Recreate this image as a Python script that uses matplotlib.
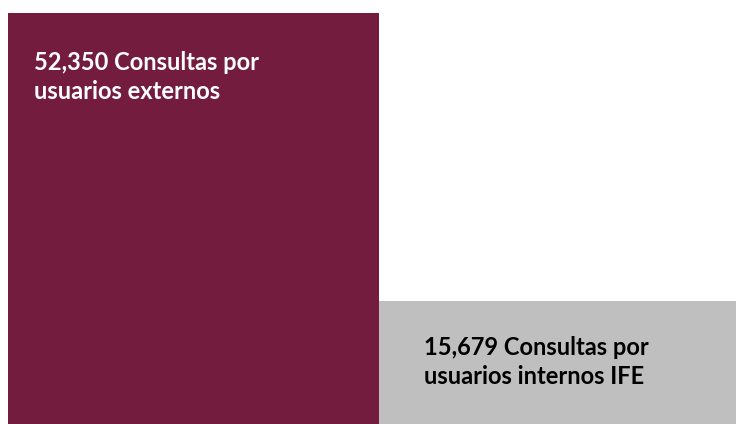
import matplotlib.pyplot as plt

# datos
categorias = ['externos', 'internos IFE']
consultas = [52350, 15679]
etiquetas = ['52,350 Consultas por\nusuarios externos',
             '15,679 Consultas por\nusuarios internos IFE']
colores = ['#731C3D', '#BFBFBF']
color_texto = ['white', 'black']

anchos = [371, 357]
izq = [0, anchos[0]]

fig = plt.figure(figsize=(7.36, 4.24), dpi=100)
ax = fig.add_axes([8/736, 0, 728/736, 411/424])

ax.bar(izq, consultas, width=anchos, align='edge', color=colores, linewidth=0)
ax.set_xlim(0, sum(anchos))
ax.set_ylim(0, max(consultas))
ax.axis('off')

# textos dentro de cada bloque
desplaz = [(26, -38), (45, -35)]
for i in range(len(consultas)):
    ax.annotate(etiquetas[i], xy=(izq[i], consultas[i]), xytext=desplaz[i],
                textcoords='offset pixels', ha='left', va='top',
                fontsize=17, fontweight='bold', family=['Lato', 'DejaVu Sans'],
                color=color_texto[i], linespacing=1.32)

fig.savefig('out.png', dpi=100)
